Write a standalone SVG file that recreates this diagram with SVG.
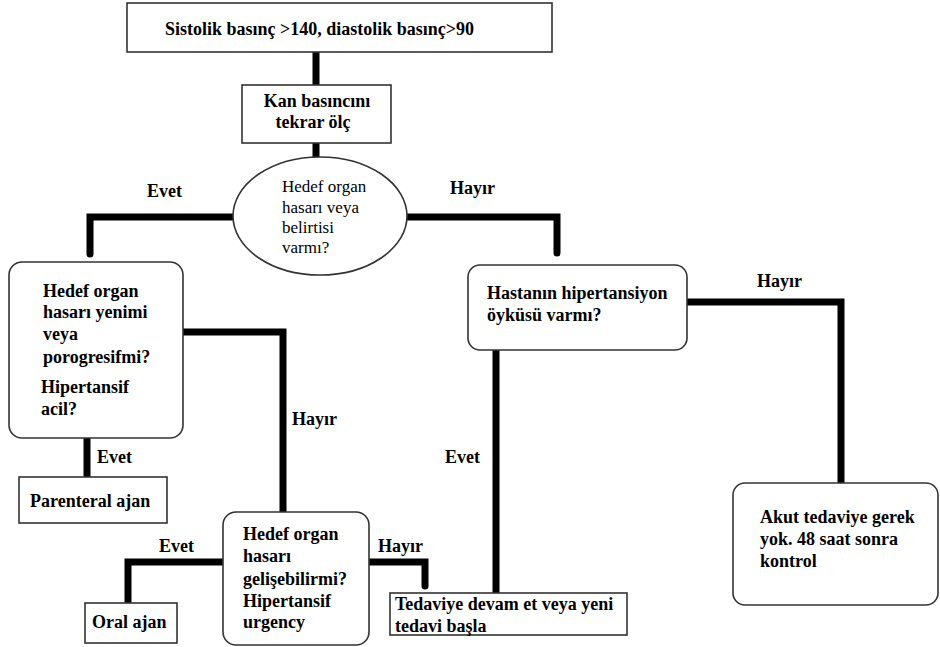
<svg xmlns="http://www.w3.org/2000/svg" width="940" height="647" viewBox="0 0 940 647">
<style>
  .box { fill: #fff; stroke: #333; stroke-width: 1.6; }
  .conn { fill: none; stroke: #000; stroke-width: 7; stroke-linecap: round; stroke-linejoin: miter; }
  .t { font-family: "Liberation Serif", "DejaVu Serif", serif; font-size: 18px; font-weight: bold; fill: #000; }
  .r { font-family: "Liberation Serif", "DejaVu Serif", serif; font-size: 17px; fill: #000; }
</style>
<rect width="940" height="647" fill="#fff"/>
<g id="connectors">
  <path class="conn" d="M316,52 V85"/>
  <path class="conn" d="M316,143 V157"/>
  <path class="conn" d="M232,217 H90 V254"/>
  <path class="conn" d="M407,217 H557 V253"/>
  <path class="conn" d="M183,332 H283 V512"/>
  <path class="conn" d="M87,438 V477"/>
  <path class="conn" d="M223,562 H128 V603"/>
  <path class="conn" d="M369,562 H425 V586"/>
  <path class="conn" d="M496,350 V593"/>
  <path class="conn" d="M687,302 H841 V483"/>
  <text class="t" x="147" y="197">Evet</text>
  <text class="t" x="450" y="194">Hayır</text>
  <text class="t" x="292" y="425">Hayır</text>
  <text class="t" x="97" y="463">Evet</text>
  <text class="t" x="159" y="552">Evet</text>
  <text class="t" x="378" y="552">Hayır</text>
  <text class="t" x="445" y="463">Evet</text>
  <text class="t" x="757" y="287">Hayır</text>
</g>
<g id="start">
  <rect class="box" x="127" y="3" width="425" height="49" stroke-width="2"/>
  <text class="t" x="165" y="35">Sistolik basınç &gt;140, diastolik basınç&gt;90</text>
</g>
<g id="remeasure">
  <rect class="box" x="242" y="85" width="149" height="58"/>
  <text class="t" x="317" y="107" text-anchor="middle">Kan basıncını</text>
  <text class="t" x="313" y="128" text-anchor="middle">tekrar ölç</text>
</g>
<g id="damage-question">
  <ellipse class="box" cx="320" cy="216" rx="87" ry="59" stroke-width="1.3"/>
  <text class="r" x="282" y="192">Hedef organ</text>
  <text class="r" x="282" y="213">hasarı veya</text>
  <text class="r" x="282" y="233">belirtisi</text>
  <text class="r" x="282" y="253">varmı?</text>
</g>
<g id="new-damage">
  <rect class="box" x="9" y="262" width="174" height="176" rx="13"/>
  <text class="t" x="43" y="297">Hedef organ</text>
  <text class="t" x="43" y="318">hasarı yenimi</text>
  <text class="t" x="43" y="340">veya</text>
  <text class="t" x="43" y="363">porogresifmi?</text>
  <text class="t" x="41" y="393">Hipertansif</text>
  <text class="t" x="41" y="415">acil?</text>
</g>
<g id="parenteral">
  <rect class="box" x="19" y="477" width="148" height="46"/>
  <text class="t" x="30" y="507">Parenteral ajan</text>
</g>
<g id="may-develop">
  <rect class="box" x="223" y="512" width="146" height="133" rx="13"/>
  <text class="t" x="243" y="540">Hedef organ</text>
  <text class="t" x="243" y="562">hasarı</text>
  <text class="t" x="243" y="585">gelişebilirmi?</text>
  <text class="t" x="243" y="607">Hipertansif</text>
  <text class="t" x="243" y="628">urgency</text>
</g>
<g id="oral">
  <rect class="box" x="85" y="603" width="92" height="40"/>
  <text class="t" x="92" y="628">Oral ajan</text>
</g>
<g id="continue">
  <rect class="box" x="390" y="593" width="237" height="42"/>
  <text class="t" x="395" y="610">Tedaviye devam et veya yeni</text>
  <text class="t" x="395" y="632">tedavi başla</text>
</g>
<g id="history">
  <rect class="box" x="468" y="265" width="219" height="85" rx="12"/>
  <text class="t" x="487" y="299">Hastanın hipertansiyon</text>
  <text class="t" x="487" y="321">öyküsü varmı?</text>
</g>
<g id="no-acute">
  <rect class="box" x="733" y="483" width="205" height="122" rx="12"/>
  <text class="t" x="760" y="523">Akut tedaviye gerek</text>
  <text class="t" x="760" y="545">yok. 48 saat sonra</text>
  <text class="t" x="760" y="567">kontrol</text>
</g>
</svg>
